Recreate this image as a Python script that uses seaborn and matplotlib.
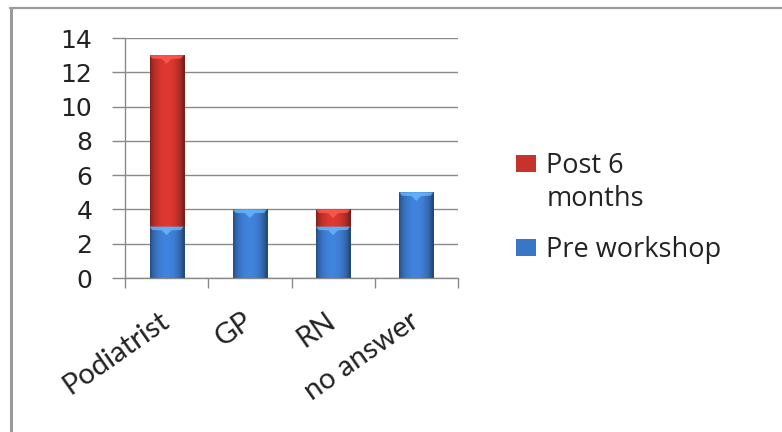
import numpy as np
import pandas as pd
import seaborn as sns
import matplotlib
matplotlib.use("Agg")
import matplotlib.pyplot as plt
from matplotlib.patches import Patch, Rectangle, Polygon
from matplotlib.lines import Line2D
from matplotlib.colors import to_rgb
from matplotlib.legend_handler import HandlerPatch

# Respondent profession counts
categories = ["Podiatrist", "GP", "RN", "no answer"]
pre_workshop = [3, 4, 3, 5]
post_6_months = [10, 0, 1, 0]
series_labels = ["Post 6\nmonths", "Pre workshop"]
y_ticks = [0, 2, 4, 6, 8, 10, 12, 14]

BLUE = "#3a76c6"
RED = "#c8322c"
GRID = "#8a8a8a"

sns.set_theme(style="white")
plt.rcParams["font.family"] = ["DejaVu Sans"]

df = pd.DataFrame({
    "category": categories,
    "pre": pre_workshop,
    "total": np.add(pre_workshop, post_6_months),
})

W, H = 782, 432
fig = plt.figure(figsize=(W / 100, H / 100), dpi=100)
fig.patch.set_facecolor("white")
ax = fig.add_axes([125 / W, 1 - 278 / H, (458 - 125) / W, (278 - 38) / H])
ax.set_facecolor("white")

BAR_W = 0.41
sns.barplot(data=df, x="category", y="total", color=RED, width=BAR_W,
            saturation=1, ax=ax, zorder=3, linewidth=0)
n_red = len(ax.patches)
sns.barplot(data=df, x="category", y="pre", color=BLUE, width=BAR_W,
            saturation=1, ax=ax, zorder=4, linewidth=0)


def shade_bar(patch, base, z):
    """Cylinder-like horizontal shading plus a light bevel on the top edge."""
    x0, y0 = patch.get_x(), patch.get_y()
    w, h = patch.get_width(), patch.get_height()
    if h <= 0:
        return
    c = np.array(to_rgb(base))
    t = np.linspace(0, 1, 64)
    prof = 0.62 + 0.5 * np.sin(np.pi * np.clip(t * 1.05, 0, 1)) ** 0.6
    prof = np.minimum(prof, 1.12)
    row = np.clip(c[None, :] * prof[:, None], 0, 1)
    img = row[None, :, :]
    im = ax.imshow(img, extent=(x0, x0 + w, y0, y0 + h), aspect="auto",
                   zorder=z + 0.1, interpolation="bicubic")
    im.set_clip_path(patch)
    # bevel on the segment top
    y1 = y0 + h
    xc = x0 + w / 2
    light = np.clip(c * 1.35 + 0.1, 0, 1)
    bevel = Polygon([(x0, y1), (x0 + w, y1), (x0 + w * 0.92, y1 - 0.2),
                     (xc + w * 0.14, y1 - 0.22), (xc, y1 - 0.5),
                     (xc - w * 0.14, y1 - 0.22), (x0 + w * 0.08, y1 - 0.2)],
                    closed=True, facecolor=light, edgecolor="none",
                    alpha=0.8, zorder=z + 0.2)
    ax.add_patch(bevel)


for i, p in enumerate(ax.patches[:]):
    if not isinstance(p, Rectangle):
        continue
    if i < n_red:
        shade_bar(p, RED, 3)
    else:
        shade_bar(p, BLUE, 4)

ax.set_xlim(-0.5, len(categories) - 0.5)
ax.set_ylim(0, 14)
ax.set_xlabel("")
ax.set_ylabel("")

# y axis
ax.set_yticks(y_ticks)
ax.set_yticklabels([str(v) for v in y_ticks], fontsize=18, color="#222222")
ax.yaxis.grid(True, color=GRID, linewidth=1.0, zorder=1)
ax.set_axisbelow(True)
ax.tick_params(axis="y", which="major", length=9.5, width=1.0, color=GRID,
               pad=14, left=True)

# x axis: labels at centres, tick marks between categories
ax.set_xticks(range(len(categories)))
ax.set_xticklabels(categories, fontsize=21, family="Lato", color="#222222",
                   rotation=35, ha="right", va="center",
                   rotation_mode="anchor")
ax.tick_params(axis="x", which="major", length=0, pad=29)
ax.set_xticks(np.arange(-0.5, len(categories), 1.0), minor=True)
ax.tick_params(axis="x", which="minor", length=7.5, width=1.0, color=GRID,
               bottom=True)

for side in ["top", "right"]:
    ax.spines[side].set_visible(False)
for side in ["left", "bottom"]:
    ax.spines[side].set_color(GRID)
    ax.spines[side].set_linewidth(1.0)


class RaisedPatchHandler(HandlerPatch):
    """Square legend key aligned with the first line of its label."""

    def __init__(self, lift=0.0, **kw):
        super().__init__(**kw)
        self.lift = lift

    def create_artists(self, legend, orig_handle, xdescent, ydescent,
                       width, height, fontsize, trans):
        r = Rectangle((-xdescent, -ydescent + self.lift), width, height,
                      facecolor=orig_handle.get_facecolor(),
                      edgecolor="none", transform=trans)
        return [r]


handles = [Patch(facecolor=RED), Patch(facecolor=BLUE)]
leg = fig.legend(handles, series_labels, loc="upper left",
                 bbox_to_anchor=(502 / W, 1 - 138 / H),
                 frameon=False,
                 prop={"family": "Open Sans", "size": 19.5},
                 handlelength=0.74, handleheight=0.57, handletextpad=0.4,
                 labelspacing=0.85, borderpad=0,
                 handler_map={handles[0]: RaisedPatchHandler(lift=14),
                              handles[1]: RaisedPatchHandler(lift=0)})
for t in leg.get_texts():
    t.set_color("#222222")
    t.set_linespacing(1.25)

# outer frame on the left and top
fig.add_artist(Line2D([11 / W, 11 / W], [0, 1 - 8 / H], transform=fig.transFigure,
                      color="#9a9a9a", linewidth=2.2))
fig.add_artist(Line2D([10 / W, 1], [1 - 8 / H, 1 - 8 / H], transform=fig.transFigure,
                      color="#9a9a9a", linewidth=1.6))

fig.savefig("out.png", dpi=100, facecolor="white")
